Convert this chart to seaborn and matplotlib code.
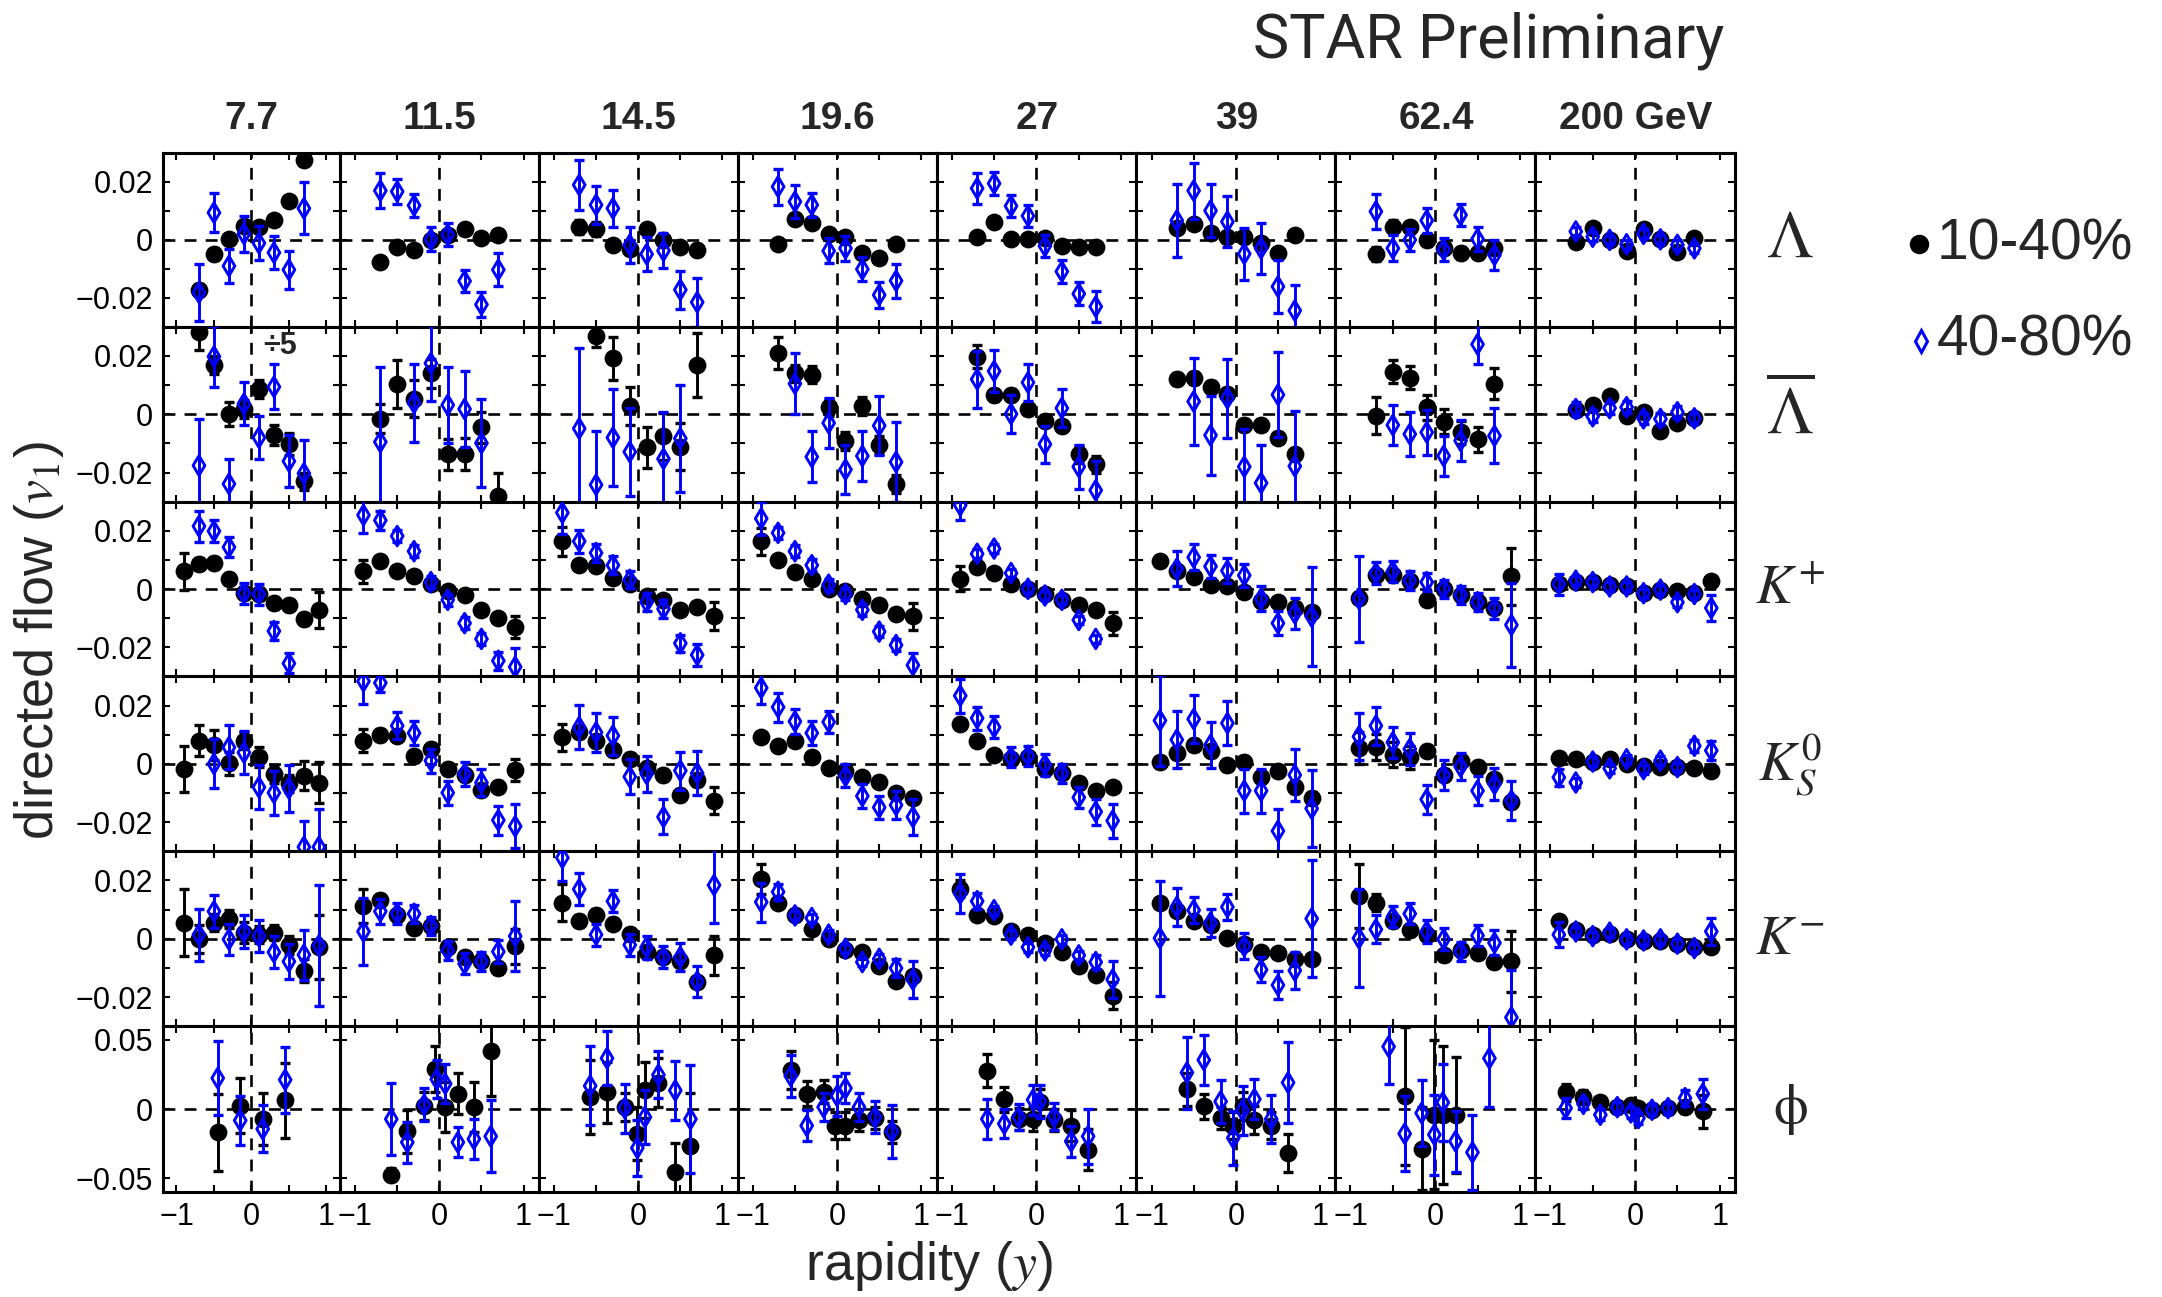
import matplotlib
matplotlib.use("Agg")
import matplotlib.pyplot as plt
from matplotlib.lines import Line2D
import pandas as pd
import seaborn as sns

W, H = 2162, 1297

energies = ["7.7", "11.5", "14.5", "19.6", "27", "39", "62.4", "200 GeV"]
species = [r"$\Lambda$", r"$\overline{\Lambda}$", r"$K^{+}$",
           r"$K^{\mathit{0}}_{S}$", r"$K^{-}$", r"$\mathrm{\phi}$"]
species_size = [48, 48, 40, 40, 40, 40]
centralities = ["10-40%", "40-80%"]

# rapidity bin centres
Y8 = [-0.7, -0.5, -0.3, -0.1, 0.1, 0.3, 0.5, 0.7]
Y10 = [-0.9, -0.7, -0.5, -0.3, -0.1, 0.1, 0.3, 0.5, 0.7, 0.9]
Y7F = [-0.5, -0.3, -0.1, 0.1, 0.3, 0.5, 0.7]
Y7B = [-0.7, -0.5, -0.3, -0.1, 0.1, 0.3, 0.5]
Y9F = [-0.9, -0.7, -0.5, -0.3, -0.1, 0.1, 0.3, 0.5, 0.7]
Y9B = [-0.7, -0.5, -0.3, -0.1, 0.1, 0.3, 0.5, 0.7, 0.9]
Y8B = [-0.5, -0.3, -0.1, 0.1, 0.3, 0.5, 0.7, 0.9]

# ---------------- Lambda ----------------
lam_cen_y = [Y8] * 8
lam_cen_v = [
    [-0.0172, -0.0048, 0.0002, 0.0048, 0.0044, 0.0069, 0.0134, 0.0276],
    [-0.0076, -0.0025, -0.0034, 0.0000, 0.0017, 0.0037, 0.0006, 0.0017],
    [0.0044, 0.0037, -0.0018, -0.0032, 0.0039, -0.0002, -0.0023, -0.0034],
    [-0.0014, 0.0072, 0.0057, 0.0021, 0.0011, -0.0046, -0.0063, -0.0014],
    [0.0009, 0.0063, 0.0003, 0.0003, 0.0008, -0.0021, -0.0025, -0.0023],
    [0.0040, 0.0055, 0.0025, 0.0011, 0.0009, -0.0011, -0.0046, 0.0017],
    [-0.0048, 0.0044, 0.0044, 0.0000, -0.0029, -0.0046, -0.0046, -0.0029],
    [-0.0006, 0.0040, 0.0000, -0.0037, 0.0037, 0.0002, -0.0040, 0.0006],
]
lam_cen_e = [
    [0.002, 0.002, 0.0015, 0.0015, 0.0015, 0.0015, 0.0015, 0.0015],
    [0.001] * 8,
    [0.0025, 0.0025, 0.0015, 0.0015, 0.0015, 0.0015, 0.0015, 0.002],
    [0.001] * 8,
    [0.001] * 8,
    [0.001] * 8,
    [0.0025, 0.0025, 0.002, 0.002, 0.002, 0.002, 0.002, 0.002],
    [0.0008] * 8,
]
lam_per_y = [Y8] * 8
lam_per_v = [
    [-0.0182, 0.0094, -0.0090, 0.0021, -0.0011, -0.0044, -0.0103, 0.0109],
    [0.0170, 0.0167, 0.0119, 0.0002, 0.0018, -0.0142, -0.0223, -0.0103],
    [0.0190, 0.0121, 0.0109, -0.0017, -0.0049, -0.0037, -0.0172, -0.0215],
    [0.0184, 0.0132, 0.0121, -0.0038, -0.0029, -0.0101, -0.0190, -0.0141],
    [0.0178, 0.0195, 0.0117, 0.0083, -0.0021, -0.0109, -0.0186, -0.0230],
    [0.0067, 0.0170, 0.0101, 0.0063, -0.0048, -0.0029, -0.0161, -0.0244],
    [0.0098, -0.0029, 0.0000, 0.0067, -0.0034, 0.0086, 0.0003, -0.0052],
    [0.0029, 0.0011, 0.0000, -0.0015, 0.0021, 0.0002, -0.0017, -0.0029],
]
lam_per_e = [
    [0.0099, 0.0068, 0.0060, 0.0061, 0.0060, 0.0057, 0.0066, 0.0090],
    [0.0061, 0.0044, 0.0041, 0.0041, 0.0040, 0.0039, 0.0043, 0.0057],
    [0.0087, 0.0066, 0.0064, 0.0061, 0.0060, 0.0060, 0.0066, 0.0085],
    [0.0062, 0.0056, 0.0042, 0.0043, 0.0043, 0.0042, 0.0046, 0.0059],
    [0.0053, 0.0040, 0.0038, 0.0037, 0.0038, 0.0038, 0.0040, 0.0054],
    [0.0125, 0.0097, 0.0091, 0.0089, 0.0089, 0.0088, 0.0092, 0.0087],
    [0.0061, 0.0045, 0.0039, 0.0043, 0.0040, 0.0039, 0.0042, 0.0053],
    [0.0015] * 8,
]

# ---------------- anti-Lambda (7.7 GeV shown divided by 5) ----------------
alam_cen_y = [Y8, Y8, Y7F, Y8, Y8, Y8, Y8, Y8]
alam_cen_v = [
    [0.0282, 0.0169, 0.0001, 0.0018, 0.0086, -0.0072, -0.0103, -0.0230],
    [-0.0016, 0.0103, 0.0053, 0.0140, -0.0138, -0.0138, -0.0045, -0.0280],
    [0.0270, 0.0192, 0.0028, -0.0114, -0.0076, -0.0111, 0.0169],
    [0.0209, 0.0140, 0.0136, 0.0024, -0.0091, 0.0028, -0.0106, -0.0239],
    [0.0198, 0.0067, 0.0067, 0.0018, -0.0022, -0.0042, -0.0138, -0.0172],
    [0.0120, 0.0125, 0.0094, 0.0071, -0.0037, -0.0037, -0.0080, -0.0138],
    [-0.0005, 0.0146, 0.0125, 0.0024, -0.0025, -0.0062, -0.0086, 0.0105],
    [0.0016, 0.0032, 0.0062, -0.0007, 0.0007, -0.0057, -0.0030, -0.0014],
]
alam_cen_e = [
    [0.006, 0.003, 0.004, 0.003, 0.003, 0.0035, 0.0037, 0.003],
    [0.005, 0.0082, 0.0064, 0.005, 0.0053, 0.0055, 0.0053, 0.008],
    [0.004, 0.0073, 0.0066, 0.007, 0.008, 0.008, 0.011],
    [0.0055, 0.003, 0.003, 0.003, 0.003, 0.003, 0.003, 0.003],
    [0.004, 0.002, 0.002, 0.002, 0.002, 0.002, 0.003, 0.003],
    [0.002] * 8,
    [0.0064, 0.004, 0.004, 0.0043, 0.0043, 0.004, 0.0042, 0.0054],
    [0.0012] * 8,
]
alam_per_y = [Y8, [-0.7, -0.3, -0.1, 0.1, 0.3, 0.5],
              [-0.7, -0.5, -0.3, -0.1, 0.3, 0.5], Y7F, Y8, Y7F, Y7F, Y8]
alam_per_v = [
    [-0.0176, 0.0198, -0.0239, 0.0036, -0.0080, 0.0094, -0.0161, -0.0203],
    [-0.0095, 0.0039, 0.0175, 0.0032, 0.0018, -0.0099],
    [-0.0049, -0.0242, -0.0080, -0.0129, -0.0153, -0.0083],
    [0.0105, -0.0146, -0.0030, -0.0190, -0.0143, -0.0039, -0.0164],
    [0.0120, 0.0148, 0.0001, 0.0109, -0.0103, 0.0021, -0.0180, -0.0261],
    [0.0044, -0.0072, 0.0055, -0.0180, -0.0236, 0.0067, -0.0178],
    [-0.0037, -0.0068, -0.0062, -0.0143, -0.0091, 0.0240, -0.0074],
    [0.0018, -0.0007, 0.0021, 0.0024, -0.0014, -0.0016, 0.0007, -0.0014],
]
alam_per_e = [
    [0.0160, 0.0104, 0.0084, 0.0073, 0.0073, 0.0077, 0.0090, 0.0116],
    [0.0258, 0.0134, 0.0130, 0.0130, 0.0132, 0.0150],
    [0.0277, 0.0185, 0.0165, 0.0150, 0.0160, 0.0185],
    [0.0104, 0.0088, 0.0086, 0.0085, 0.0087, 0.0100, 0.0136],
    [0.0098, 0.0073, 0.0066, 0.0064, 0.0064, 0.0064, 0.0075, 0.0100],
    [0.0150, 0.0135, 0.0136, 0.0130, 0.0130, 0.0145, 0.0190],
    [0.0068, 0.0075, 0.0077, 0.0070, 0.0070, 0.0067, 0.0095],
    [0.0025, 0.002, 0.002, 0.002, 0.002, 0.002, 0.002, 0.002],
]

# ---------------- K+ ----------------
kp_cen_y = [Y10] * 8
kp_cen_v = [
    [0.0061, 0.0086, 0.0090, 0.0036, -0.0014, -0.0017, -0.0048, -0.0054, -0.0102, -0.0071],
    [0.0061, 0.0095, 0.0063, 0.0044, 0.0017, -0.0008, -0.0020, -0.0071, -0.0100, -0.0129],
    [0.0164, 0.0082, 0.0078, 0.0038, 0.0017, -0.0025, -0.0037, -0.0071, -0.0060, -0.0094],
    [0.0164, 0.0101, 0.0059, 0.0036, 0.0001, -0.0006, -0.0033, -0.0054, -0.0086, -0.0094],
    [0.0036, 0.0075, 0.0055, 0.0017, 0.0001, -0.0017, -0.0037, -0.0054, -0.0071, -0.0117],
    [0.0098, 0.0061, 0.0040, 0.0015, 0.0009, -0.0010, -0.0040, -0.0045, -0.0065, -0.0079],
    [-0.0031, 0.0047, 0.0049, 0.0029, -0.0037, 0.0001, -0.0020, -0.0045, -0.0065, 0.0044],
    [0.0017, 0.0024, 0.0024, 0.0013, 0.0009, -0.0014, -0.0002, -0.0008, -0.0014, 0.0029],
]
kp_cen_e = [
    [0.0063, 0.002, 0.002, 0.002, 0.002, 0.002, 0.002, 0.002, 0.002, 0.0062],
    [0.004, 0.0015, 0.0015, 0.0015, 0.0015, 0.0015, 0.0015, 0.0015, 0.0015, 0.0038],
    [0.005, 0.0015, 0.0015, 0.0015, 0.0015, 0.0015, 0.0015, 0.0015, 0.0015, 0.0048],
    [0.0047, 0.0015, 0.0015, 0.0015, 0.0015, 0.0015, 0.0015, 0.0015, 0.0015, 0.0046],
    [0.0042, 0.0015, 0.0015, 0.0015, 0.0015, 0.0015, 0.0015, 0.0015, 0.0015, 0.004],
    [0.0012] * 10,
    [0.0012, 0.0012, 0.0012, 0.0012, 0.0012, 0.0012, 0.0012, 0.0012, 0.0012, 0.0097],
    [0.001] * 10,
]
kp_per_y = [Y7B, Y10, Y9F, Y10, Y9F, Y9B, Y10, Y10]
kp_per_v = [
    [0.0216, 0.0199, 0.0144, -0.0014, -0.0017, -0.0144, -0.0255],
    [0.0254, 0.0236, 0.0182, 0.0130, 0.0024, -0.0037, -0.0117, -0.0171, -0.0246, -0.0267],
    [0.0262, 0.0164, 0.0124, 0.0082, 0.0032, -0.0045, -0.0068, -0.0186, -0.0226],
    [0.0242, 0.0193, 0.0130, 0.0082, 0.0015, -0.0017, -0.0071, -0.0146, -0.0192, -0.0261],
    [0.0288, 0.0121, 0.0139, 0.0055, 0.0001, -0.0022, -0.0037, -0.0106, -0.0171],
    [0.0070, 0.0109, 0.0078, 0.0063, 0.0047, -0.0033, -0.0117, -0.0083, -0.0094],
    [-0.0033, 0.0055, 0.0061, 0.0029, 0.0024, 0.0001, -0.0020, -0.0045, -0.0065, -0.0123],
    [0.0017, 0.0029, 0.0024, 0.0009, 0.0009, -0.0014, -0.0002, -0.0045, -0.0017, -0.0065],
]
kp_per_e = [
    [0.0053, 0.0038, 0.0034, 0.0036, 0.0036, 0.0032, 0.0034],
    [0.0062, 0.0032, 0.002, 0.002, 0.002, 0.002, 0.002, 0.002, 0.003, 0.0064],
    [0.0072, 0.004, 0.0031, 0.0031, 0.0029, 0.0031, 0.003, 0.003, 0.0038],
    [0.0057, 0.002, 0.002, 0.002, 0.002, 0.002, 0.002, 0.002, 0.002, 0.0043],
    [0.005, 0.0015, 0.0015, 0.0015, 0.0015, 0.0015, 0.0015, 0.0015, 0.0015],
    [0.0061, 0.0044, 0.0040, 0.0042, 0.0040, 0.0042, 0.0041, 0.0054, 0.0170],
    [0.0148, 0.0039, 0.0037, 0.0032, 0.0032, 0.003, 0.003, 0.003, 0.0036, 0.0144],
    [0.0036, 0.0015, 0.0015, 0.0015, 0.0015, 0.0015, 0.0015, 0.0015, 0.0015, 0.0044],
]

# ---------------- K0S ----------------
ks_cen_y = [Y10] * 8
ks_cen_v = [
    [-0.0018, 0.0080, 0.0065, 0.0002, 0.0080, 0.0023, -0.0034, -0.0067, -0.0041, -0.0064],
    [0.0080, 0.0100, 0.0097, 0.0028, 0.0051, -0.0018, -0.0038, -0.0090, -0.0078, -0.0021],
    [0.0092, 0.0108, 0.0077, 0.0048, 0.0016, -0.0015, -0.0038, -0.0107, -0.0055, -0.0126],
    [0.0094, 0.0062, 0.0080, 0.0025, -0.0015, -0.0023, -0.0046, -0.0061, -0.0099, -0.0118],
    [0.0138, 0.0077, 0.0031, 0.0016, 0.0023, -0.0018, -0.0032, -0.0064, -0.0092, -0.0080],
    [0.0005, 0.0039, 0.0065, 0.0043, -0.0003, 0.0008, -0.0046, -0.0026, -0.0080, -0.0118],
    [0.0054, 0.0057, 0.0031, 0.0023, 0.0046, -0.0038, 0.0011, -0.0009, -0.0053, -0.0130],
    [0.0020, 0.0016, 0.0008, 0.0016, 0.0000, -0.0007, -0.0011, -0.0011, -0.0015, -0.0026],
]
ks_cen_e = [
    [0.0080, 0.0054, 0.0050, 0.0040, 0.0030, 0.0034, 0.0030, 0.0030, 0.0050, 0.0069],
    [0.004, 0.002, 0.002, 0.002, 0.002, 0.002, 0.002, 0.002, 0.002, 0.0037],
    [0.0046, 0.002, 0.002, 0.002, 0.002, 0.002, 0.002, 0.002, 0.002, 0.0046],
    [0.0015] * 10,
    [0.0015] * 10,
    [0.002] * 10,
    [0.0055, 0.0045, 0.0043, 0.004, 0.002, 0.002, 0.002, 0.002, 0.002, 0.002],
    [0.001] * 10,
]
ks_per_y = [Y8B, Y10, Y8, Y10, Y10, Y10, Y10, Y10]
ks_per_v = [
    [0.0000, 0.0057, 0.0039, -0.0080, -0.0099, -0.0084, -0.0285, -0.0285],
    [0.0284, 0.0278, 0.0131, 0.0106, 0.0011, -0.0099, -0.0034, -0.0064, -0.0193, -0.0214],
    [0.0126, 0.0108, 0.0097, -0.0044, -0.0034, -0.0182, -0.0023, -0.0032],
    [0.0261, 0.0195, 0.0146, 0.0106, 0.0144, -0.0041, -0.0110, -0.0149, -0.0141, -0.0182],
    [0.0234, 0.0157, 0.0126, 0.0023, 0.0028, -0.0003, -0.0032, -0.0115, -0.0164, -0.0195],
    [0.0149, 0.0083, 0.0154, 0.0065, 0.0140, -0.0092, -0.0092, -0.0230, -0.0038, -0.0153],
    [0.0094, 0.0131, 0.0074, 0.0051, -0.0122, -0.0038, -0.0009, -0.0092, -0.0069, -0.0126],
    [-0.0046, -0.0064, 0.0008, -0.0015, 0.0016, -0.0018, 0.0011, -0.0011, 0.0062, 0.0046],
]
ks_per_e = [
    [0.0084, 0.0076, 0.0073, 0.0075, 0.0076, 0.0080, 0.0090, 0.0130],
    [0.0080, 0.0030, 0.0046, 0.0042, 0.0041, 0.0042, 0.0041, 0.0046, 0.0050, 0.0076],
    [0.0076, 0.0067, 0.0065, 0.0060, 0.0061, 0.0060, 0.0065, 0.0075],
    [0.0056, 0.0050, 0.0043, 0.0042, 0.0039, 0.0039, 0.0040, 0.0040, 0.0048, 0.0063],
    [0.0059, 0.0039, 0.0037, 0.0034, 0.0035, 0.0038, 0.0033, 0.0036, 0.0044, 0.0059],
    [0.0155, 0.0098, 0.0083, 0.0079, 0.0075, 0.0076, 0.0076, 0.0076, 0.0090, 0.0133],
    [0.0082, 0.0065, 0.0053, 0.0055, 0.0050, 0.0050, 0.0047, 0.0050, 0.0054, 0.0066],
    [0.0029, 0.0015, 0.0015, 0.0015, 0.0015, 0.0015, 0.0015, 0.0015, 0.0020, 0.0032],
]

# ---------------- K- ----------------
km_cen_y = [Y10] * 8
km_cen_v = [
    [0.0055, 0.0000, 0.0055, 0.0067, 0.0021, 0.0014, 0.0021, -0.0021, -0.0109, -0.0029],
    [0.0113, 0.0132, 0.0080, 0.0037, 0.0044, -0.0029, -0.0063, -0.0075, -0.0101, -0.0025],
    [0.0124, 0.0060, 0.0083, 0.0052, 0.0017, -0.0044, -0.0063, -0.0075, -0.0147, -0.0057],
    [0.0205, 0.0124, 0.0080, 0.0032, -0.0002, -0.0037, -0.0044, -0.0092, -0.0144, -0.0129],
    [0.0172, 0.0080, 0.0078, 0.0025, 0.0014, -0.0014, -0.0044, -0.0092, -0.0124, -0.0195],
    [0.0124, 0.0094, 0.0060, 0.0048, 0.0002, -0.0017, -0.0044, -0.0048, -0.0071, -0.0069],
    [0.0147, 0.0124, 0.0060, 0.0029, 0.0014, -0.0057, -0.0040, -0.0048, -0.0080, -0.0078],
    [0.0060, 0.0029, 0.0014, 0.0017, 0.0000, -0.0009, -0.0009, -0.0017, -0.0029, -0.0029],
]
km_cen_e = [
    [0.0114, 0.0048, 0.003, 0.003, 0.0035, 0.003, 0.0025, 0.003, 0.0038, 0.011],
    [0.0059, 0.002, 0.002, 0.002, 0.002, 0.002, 0.002, 0.002, 0.002, 0.006],
    [0.0063, 0.002, 0.002, 0.002, 0.002, 0.002, 0.002, 0.002, 0.002, 0.0068],
    [0.005, 0.0015, 0.0015, 0.0015, 0.0015, 0.0015, 0.0015, 0.0015, 0.0015, 0.0015],
    [0.003, 0.0015, 0.0015, 0.0015, 0.0015, 0.0015, 0.0015, 0.0015, 0.0015, 0.0047],
    [0.0015] * 10,
    [0.0109, 0.003, 0.002, 0.002, 0.002, 0.002, 0.002, 0.002, 0.002, 0.0105],
    [0.001] * 10,
]
km_per_y = [Y9B, Y10, Y10, Y10, Y10, Y10, Y10, Y10]
km_per_v = [
    [0.0014, 0.0094, -0.0002, 0.0025, 0.0009, -0.0046, -0.0078, -0.0055, -0.0023],
    [0.0025, 0.0094, 0.0086, 0.0086, 0.0044, -0.0040, -0.0086, -0.0078, -0.0044, 0.0009],
    [0.0278, 0.0170, 0.0014, 0.0129, -0.0021, -0.0029, -0.0063, -0.0063, -0.0147, 0.0184],
    [0.0126, 0.0161, 0.0080, 0.0071, 0.0014, -0.0034, -0.0080, -0.0069, -0.0101, -0.0140],
    [0.0155, 0.0129, 0.0098, 0.0014, -0.0029, -0.0040, -0.0002, -0.0057, -0.0080, -0.0140],
    [0.0002, 0.0109, 0.0098, 0.0055, 0.0109, -0.0025, -0.0106, -0.0159, -0.0109, 0.0069],
    [0.0002, 0.0032, 0.0075, 0.0086, 0.0025, -0.0002, -0.0044, 0.0011, -0.0014, -0.0270],
    [0.0014, 0.0025, 0.0009, 0.0021, -0.0002, -0.0006, -0.0002, -0.0017, -0.0032, 0.0025],
]
km_per_e = [
    [0.0089, 0.0057, 0.0053, 0.0056, 0.0055, 0.0056, 0.0061, 0.0086, 0.0207],
    [0.0115, 0.0044, 0.0036, 0.0031, 0.0031, 0.0032, 0.0036, 0.0033, 0.0040, 0.0119],
    [0.0080, 0.0055, 0.0038, 0.0038, 0.0037, 0.0040, 0.0038, 0.0049, 0.0054, 0.0130],
    [0.0067, 0.0027, 0.0015, 0.0015, 0.0015, 0.0015, 0.0015, 0.0015, 0.0030, 0.0063],
    [0.0067, 0.0027, 0.0015, 0.0015, 0.0015, 0.0015, 0.0015, 0.0015, 0.0025, 0.0063],
    [0.0197, 0.0065, 0.0044, 0.0048, 0.0046, 0.0045, 0.0043, 0.0047, 0.0063, 0.0201],
    [0.0167, 0.0048, 0.0036, 0.0036, 0.0040, 0.0038, 0.0032, 0.0036, 0.0043, 0.0164],
    [0.0042, 0.0015, 0.0015, 0.0015, 0.0015, 0.0015, 0.0015, 0.0015, 0.0015, 0.0045],
]

# ---------------- phi ----------------
phi_cen_y = [
    [-0.45, -0.15, 0.15, 0.45],
    [-0.57, -0.38, -0.18, -0.05, 0.07, 0.22, 0.41, 0.61],
    [-0.57, -0.37, -0.16, -0.01, 0.08, 0.24, 0.44, 0.62],
    [-0.55, -0.36, -0.16, -0.02, 0.10, 0.26, 0.45, 0.65],
    [-0.58, -0.38, -0.21, -0.04, 0.04, 0.21, 0.41, 0.61],
    [-0.58, -0.38, -0.18, -0.03, 0.08, 0.22, 0.42, 0.62],
    [-0.36, -0.16, -0.01, 0.09, 0.24],
    [-0.82, -0.61, -0.41, -0.21, -0.05, 0.04, 0.20, 0.39, 0.59, 0.80],
]
phi_cen_v = [
    [-0.0168, 0.0024, -0.0072, 0.0063],
    [-0.0474, -0.0161, 0.0024, 0.0288, 0.0014, 0.0111, 0.0014, 0.0423],
    [0.0087, 0.0120, 0.0014, -0.0178, 0.0139, 0.0192, -0.0457, -0.0264],
    [0.0284, 0.0111, 0.0127, -0.0120, -0.0120, -0.0082, -0.0065, -0.0168],
    [0.0279, 0.0072, -0.0072, -0.0072, 0.0048, -0.0077, -0.0120, -0.0293],
    [0.0144, 0.0019, -0.0065, -0.0120, 0.0024, -0.0077, -0.0120, -0.0317],
    [0.0096, -0.0288, -0.0041, -0.0041, -0.0041],
    [0.0120, 0.0087, 0.0048, 0.0014, 0.0031, 0.0007, -0.0005, 0.0007, 0.0014, -0.0017],
]
phi_cen_e = [
    [0.028, 0.020, 0.019, 0.027],
    [0.005, 0.0154, 0.0100, 0.0168, 0.018, 0.015, 0.018, 0.033],
    [0.027, 0.022, 0.010, 0.019, 0.020, 0.018, 0.021, 0.038],
    [0.0136, 0.009, 0.008, 0.010, 0.010, 0.008, 0.008, 0.008],
    [0.0118, 0.009, 0.008, 0.009, 0.010, 0.008, 0.0114, 0.015],
    [0.012, 0.009, 0.008, 0.010, 0.010, 0.010, 0.010, 0.0138],
    [0.050, 0.030, 0.054, 0.050, 0.042],
    [0.006, 0.005, 0.004, 0.004, 0.004, 0.004, 0.004, 0.004, 0.004, 0.012],
]
phi_per_y = [
    [-0.45, -0.15, 0.15, 0.45],
    [-0.57, -0.38, -0.18, -0.03, 0.07, 0.22, 0.41, 0.61],
    [-0.57, -0.37, -0.16, -0.01, 0.08, 0.24, 0.44, 0.62],
    [-0.55, -0.36, -0.16, 0.00, 0.10, 0.26, 0.45, 0.65],
    [-0.58, -0.38, -0.21, -0.04, 0.04, 0.21, 0.41, 0.61],
    [-0.58, -0.38, -0.18, -0.03, 0.08, 0.22, 0.42, 0.62],
    [-0.55, -0.36, -0.16, -0.01, 0.09, 0.24, 0.44, 0.64],
    [-0.82, -0.61, -0.41, -0.21, -0.05, 0.04, 0.20, 0.39, 0.59, 0.80],
]
phi_per_v = [
    [0.0224, -0.0082, -0.0144, 0.0212],
    [-0.0072, -0.0240, 0.0031, 0.0216, 0.0183, -0.0240, -0.0216, -0.0197],
    [0.0168, 0.0368, 0.0007, -0.0281, -0.0058, 0.0248, 0.0135, -0.0072],
    [0.0240, -0.0120, 0.0014, 0.0096, 0.0151, 0.0014, -0.0058, -0.0161],
    [-0.0072, -0.0106, -0.0058, 0.0067, 0.0055, -0.0053, -0.0233, -0.0197],
    [0.0264, 0.0356, 0.0055, -0.0209, -0.0010, 0.0072, -0.0072, 0.0192],
    [0.0452, -0.0178, -0.0029, -0.0185, 0.0048, -0.0233, -0.0313, 0.0368],
    [0.0007, 0.0038, -0.0041, 0.0014, -0.0024, -0.0065, -0.0005, 0.0007, 0.0079, 0.0110],
]
phi_per_e = [
    [0.027, 0.018, 0.017, 0.024],
    [0.026, 0.015, 0.012, 0.0136, 0.014, 0.011, 0.0144, 0.026],
    [0.0286, 0.0196, 0.0178, 0.020, 0.0198, 0.017, 0.0216, 0.039],
    [0.015, 0.011, 0.010, 0.0144, 0.0108, 0.010, 0.0114, 0.019],
    [0.0147, 0.0103, 0.0096, 0.0108, 0.0117, 0.0099, 0.0113, 0.020],
    [0.026, 0.018, 0.0159, 0.0196, 0.018, 0.0144, 0.0177, 0.029],
    [0.027, 0.027, 0.024, 0.029, 0.028, 0.022, 0.027, 0.035],
    [0.0075, 0.004, 0.004, 0.004, 0.004, 0.004, 0.004, 0.004, 0.006, 0.011],
]

rows = [
    (lam_cen_y, lam_cen_v, lam_cen_e, lam_per_y, lam_per_v, lam_per_e),
    (alam_cen_y, alam_cen_v, alam_cen_e, alam_per_y, alam_per_v, alam_per_e),
    (kp_cen_y, kp_cen_v, kp_cen_e, kp_per_y, kp_per_v, kp_per_e),
    (ks_cen_y, ks_cen_v, ks_cen_e, ks_per_y, ks_per_v, ks_per_e),
    (km_cen_y, km_cen_v, km_cen_e, km_per_y, km_per_v, km_per_e),
    (phi_cen_y, phi_cen_v, phi_cen_e, phi_per_y, phi_per_v, phi_per_e),
]

# ---------------- style ----------------
sns.set_style("ticks")
plt.rcParams["font.family"] = ["Liberation Sans", "DejaVu Sans"]
plt.rcParams["mathtext.fontset"] = "stix"
plt.rcParams["axes.unicode_minus"] = True

BLACK = "#000000"
BLUE = "#0000ff"

fig = plt.figure(figsize=(W / 100, H / 100), dpi=100)
gs = fig.add_gridspec(
    6, 8, left=163 / W, right=1735 / W, top=1 - 153 / H, bottom=1 - 1192 / H,
    width_ratios=[177, 199, 199, 199, 200, 199, 200, 200],
    height_ratios=[174, 175, 175, 175, 175, 166], wspace=0, hspace=0)

for r, (cy, cv, ce, py, pv, pe) in enumerate(rows):
    lim = 0.06 if r == 5 else 0.03
    for c in range(8):
        ax = fig.add_subplot(gs[r, c])
        ax.axhline(0, color=BLACK, lw=1.9, ls=(0, (4.5, 3.5)), zorder=1)
        ax.axvline(0, color=BLACK, lw=1.9, ls=(0, (4.5, 3.5)), zorder=1)

        cen = pd.DataFrame({"y": cy[c], "v1": cv[c], "err": ce[c]})
        per = pd.DataFrame({"y": py[c], "v1": pv[c], "err": pe[c]})

        ax.errorbar(cen["y"], cen["v1"], yerr=cen["err"], fmt="none",
                    ecolor=BLACK, elinewidth=2.1, capsize=3.3, capthick=2.4,
                    zorder=2)
        sns.scatterplot(data=cen, x="y", y="v1", ax=ax, marker="o", s=165,
                        color=BLACK, edgecolor=BLACK, linewidth=0,
                        zorder=3, legend=False)
        ax.errorbar(per["y"], per["v1"], yerr=per["err"], fmt="none",
                    ecolor=BLUE, elinewidth=2.1, capsize=3.3, capthick=2.4,
                    zorder=4)
        sns.scatterplot(data=per, x="y", y="v1", ax=ax, marker="d", s=100,
                        color=BLUE, facecolor="none", edgecolor=BLUE,
                        linewidth=2.1, zorder=5, legend=False)

        ax.set_xlim(-1.18, 1.18)
        ax.set_ylim(-lim, lim)
        ax.set_xlabel("")
        ax.set_ylabel("")

        ax.set_xticks([-1, 0, 1])
        ax.set_xticks([-0.5, 0.5], minor=True)
        if r == 5:
            ax.set_yticks([-0.05, 0, 0.05])
            ylabels = ["\u22120.05", "0", "0.05"]
        else:
            ax.set_yticks([-0.02, 0, 0.02])
            ax.set_yticks([-0.01, 0.01], minor=True)
            ylabels = ["\u22120.02", "0", "0.02"]
        ax.tick_params(which="both", direction="in", top=True, right=True,
                       length=5, width=1.5, colors=BLACK)
        ax.tick_params(axis="x", labelsize=22, pad=7)
        ax.tick_params(axis="y", labelsize=22, pad=7)
        if r == 5:
            ax.set_xticklabels(["\u22121", "0", "1"])
        else:
            ax.set_xticklabels([])
        if c == 0:
            ax.set_yticklabels(ylabels)
        else:
            ax.set_yticklabels([])
        for sp in ax.spines.values():
            sp.set_linewidth(2.2)
            sp.set_color(BLACK)

        if r == 1 and c == 0:
            ax.text(0.66, 0.89, "\u00f75", transform=ax.transAxes,
                    fontsize=22, fontweight="bold", ha="center", va="center")

# column headers (collision energy)
col_edges = [163, 340, 539, 738, 937, 1137, 1336, 1536, 1735]
for c, lab in enumerate(energies):
    xc = 0.5 * (col_edges[c] + col_edges[c + 1]) / W
    fig.text(xc, 1 - 129 / H, lab, ha="center", va="baseline",
             fontsize=28, fontweight="bold")

# particle species on the right
row_edges = [153, 327, 502, 677, 852, 1027, 1192]
for r, lab in enumerate(species):
    yc = 1 - 0.5 * (row_edges[r] + row_edges[r + 1]) / H
    fig.text(1790 / W, yc, lab, ha="center", va="center",
             fontsize=species_size[r])

# centrality legend
fig.add_artist(Line2D([1919 / W], [1 - 244 / H], transform=fig.transFigure,
                      marker="o", ms=13, color=BLACK, ls="none"))
fig.add_artist(Line2D([1921 / W], [1 - 341 / H], transform=fig.transFigure,
                      marker="d", ms=11, mfc="none", mec=BLUE, mew=2.2,
                      ls="none"))
fig.text(1937 / W, 1 - 244 / H, centralities[0], ha="left", va="center",
         fontsize=41)
fig.text(1937 / W, 1 - 341 / H, centralities[1], ha="left", va="center",
         fontsize=41)

# axis titles
fig.text(929 / W, 1 - 1266 / H, r"rapidity ($y$)", ha="center", va="center",
         fontsize=39)
fig.text(39 / W, 1 - 641 / H, r"directed flow ($v_1$)", ha="center",
         va="center", rotation=90, fontsize=39)

fig.text(1724 / W, 1 - 58 / H, "STAR Preliminary", ha="right", va="baseline",
         fontsize=44, family=["Roboto", "Liberation Sans"])

fig.savefig("out.png", dpi=100)
